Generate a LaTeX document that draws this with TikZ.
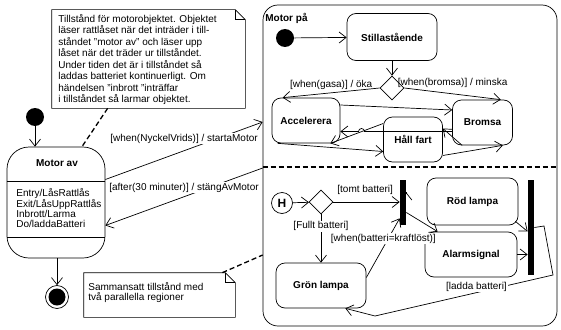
\documentclass[tikz,border=0pt]{standalone}
\usepackage{fontspec}
\setmainfont{Liberation Sans}
\usetikzlibrary{arrows.meta,shapes.geometric,calc}
\tikzset{
  tr/.style={draw,-{Straight Barb[length=7pt,width=11pt]}},
  state/.style={draw,rounded corners=9pt,font=\bfseries,inner sep=0pt},
  dot/.style={circle,fill=black,minimum size=18pt,inner sep=0pt},
  choice/.style={diamond,draw,fill=white,minimum width=24pt,minimum height=24pt,inner sep=0pt},
  bar/.style={fill=black,inner sep=0pt,minimum width=6pt},
  lbl/.style={fill=white,inner sep=1pt},
  notebox/.style={inner sep=0pt},
  notetext/.style={align=left,inner sep=0pt,anchor=north west},
  noteline/.style={line width=1.3pt,dash pattern=on 5pt off 3pt}
}
\begin{document}
\begin{tikzpicture}[x=1pt,y=-1pt,line width=0.7pt]
\useasboundingbox (0,0) rectangle (561,329);

% Motor av
\node[dot] (init1) at (35,117) {};
\node[draw,rounded corners=22pt,minimum width=98pt,minimum height=111pt,inner sep=0pt] (motorav) at (56,202.5) {};
\node[font=\bfseries] (avname) at (57,163) {Motor av};
\draw ($(motorav.west)+(0,-21.5)$) -- ($(motorav.east)+(0,-21.5)$);
\draw ($(motorav.west)+(0,34.5)$) -- ($(motorav.east)+(0,34.5)$);
\node[notetext,font=\fontsize{10}{10}\selectfont] (avbody) at (16,188) {Entry/LåsRattlås\\Exit/LåsUppRattlås\\Inbrott/Larma\\Do/laddaBatteri};
\node[circle,draw,minimum size=23pt,inner sep=0pt] (final) at (57,297) {};
\node[dot,minimum size=17pt] (finaldot) at (final) {};
\draw[tr] (init1) -- (init1 |- motorav.north);
\draw[tr] (final |- motorav.south) -- (final.north);

% note 1
\node[notebox,minimum width=193pt,minimum height=98pt] (note1) at (148.5,59) {};
\draw (note1.north west) -- ($(note1.north east)+(-10,0)$) -- ($(note1.north east)+(0,10)$) -- (note1.south east) -- (note1.south west) -- cycle;
\draw ($(note1.north east)+(-10,0)$) -- ($(note1.north east)+(-10,10)$) -- ($(note1.north east)+(0,10)$);
\node[notetext,font=\fontsize{10}{11.5}\selectfont] (note1txt) at (58,14) {Tillstånd för motorobjektet. Objektet\\läser rattlåset när det inträder i till-\\ståndet "motor av" och läser upp\\låset när det träder ur tillståndet.\\Under tiden det är i tillståndet så\\laddas batteriet kontinuerligt. Om\\händelsen "inbrott "inträffar\\i tillståndet så larmar objektet.};
\draw[noteline] ($(note1.south west)+(56,0)$) -- ($(motorav.north)+(26,0)$);

% Motor på
\node[draw,rounded corners=15pt,minimum width=294pt,minimum height=321pt,inner sep=0pt] (motorpa) at (410,165.5) {};
\node[font=\bfseries,anchor=west,inner sep=1pt] (paname) at (264,18) {Motor på};
\coordinate (split) at (410,167);
\draw[line width=1.2pt,dash pattern=on 5pt off 3pt] (split -| motorpa.west) -- (split -| motorpa.east);

\draw[tr] ($(motorav.east)+(0,-23)$) -- node[lbl,pos=0.5,above=6pt] {[when(NyckelVrids)] / startaMotor} ($(motorpa.west)+(0,-43.5)$);
\draw[tr] ($(motorpa.west)+(0,2.5)$) -- node[lbl,pos=0.5,above=3pt] {[after(30 minuter)] / stängAvMotor} ($(motorav.east)+(0,23)$);

% upper region
\node[dot] (init2) at (285,38) {};
\node[state,minimum width=90pt,minimum height=47pt] (still) at (392,37) {Stillastående};
\node[choice] (dec1) at (392,88) {};
\node[state,minimum width=68pt,minimum height=45pt] (acc) at (306,120.5) {Accelerera};
\node[state,minimum width=60pt,minimum height=45pt] (brom) at (482.5,122.5) {Bromsa};
\node[state,minimum width=59pt,minimum height=45pt] (hall) at (413,139.5) {Håll fart};
\coordinate (hop) at (361.5,131.5);

\draw[tr] (init2) -- (still);
\draw[tr] (still) -- (dec1);
\draw[tr] (dec1.west) -- node[inner sep=1pt,pos=0.5,above=2pt] {[when(gasa)] / öka} ($(acc.north west)+(11,0)$);
\draw[tr] (dec1.east) -- node[inner sep=1pt,pos=0.5,above=5pt] {[when(bromsa)] / minska} ($(brom.north east)+(-12,0)$);
\draw[tr] ($(acc.east)+(0,-15.5)$) -- ($(brom.west)+(0,-12.5)$);
\draw[tr] ($(brom.west)+(0,9)$) -- ($(hop)+(3,0)$) arc[start angle=0,end angle=180,radius=3pt] -- ($(acc.east)+(0,11)$);
\draw[tr] ($(hall.west)+(0,-16)$) -- ($(acc.south east)+(-10,0)$);
\draw[tr] ($(acc.south west)+(6,0)$) -- ($(hall.west)+(0,12)$);
\draw[tr] ($(hall.east)+(0,16)$) -- ($(brom.south east)+(-10,0)$);
\draw[tr] ($(brom.south west)+(10,0)$) -- ($(hall.east)+(0,-11)$);

% lower region
\node[circle,draw,minimum size=21pt,inner sep=0pt,font=\bfseries\large] (hist) at (282,203) {H};
\node[choice] (dec2) at (321,202) {};
\node[bar,minimum height=45pt] (bar1) at (403,202.5) {};
\node[state,minimum width=90pt,minimum height=45pt] (gron) at (321,285.5) {Grön lampa};
\node[state,minimum width=91pt,minimum height=47pt] (rod) at (472.5,201.5) {Röd lampa};
\node[state,minimum width=92pt,minimum height=45pt] (alarm) at (471,254.5) {Alarmsignal};
\node[bar,minimum height=95pt] (bar2) at (531,227.5) {};
\coordinate (b1) at (544,226);
\coordinate (b2) at (553,275);
\coordinate (b3) at (375,316);

\draw[tr] (hist) -- (dec2);
\draw[tr] (dec2.east) -- node[lbl,pos=0.48,above=6pt] {[tomt batteri]} (dec2.east -| bar1.west);
\draw[tr] (dec2.south) -- node[lbl,pos=0.245] {[Fullt batteri]} (gron.north);
\draw[tr] ($(gron.east)+(0,-8)$) -- node[lbl,pos=0.66,xshift=-5pt] {[when(batteri=kraftlöst)]} ($(bar1.south west)+(0,-7)$);
\draw[tr] ($(bar1.east)+(0,-10)$) -- ($(bar1.east)+(0,-10)$ -| rod.west);
\draw[tr] ($(bar1.east)+(0,10)$) -- ($(alarm.north west)+(13,0)$);
\draw[tr] ($(rod.south east)+(-3,-4)$) -- ($(bar2.west)+(0,4)$);
\draw[tr] (alarm.east) -- (alarm.east -| bar2.west);
\draw[tr] (bar2.east) -- (b1) -- (b2) -- node[lbl,pos=0.43,anchor=south] {[ladda batteri]} (b3) -- ($(gron.south east)+(-21,0)$);

% note 2
\node[notebox,minimum width=151pt,minimum height=44pt] (note2) at (159.5,295) {};
\draw (note2.north west) -- ($(note2.north east)+(-10,0)$) -- ($(note2.north east)+(0,10)$) -- (note2.south east) -- (note2.south west) -- cycle;
\draw ($(note2.north east)+(-10,0)$) -- ($(note2.north east)+(-10,10)$) -- ($(note2.north east)+(0,10)$);
\node[notetext,font=\fontsize{10}{10.5}\selectfont] (note2txt) at (88,282) {Sammansatt tillstånd med\\två parallella regioner};
\draw[noteline] ($(note2.north east)+(-13,0)$) -- ($(motorpa.west)+(0,89.5)$);
\end{tikzpicture}
\end{document}
